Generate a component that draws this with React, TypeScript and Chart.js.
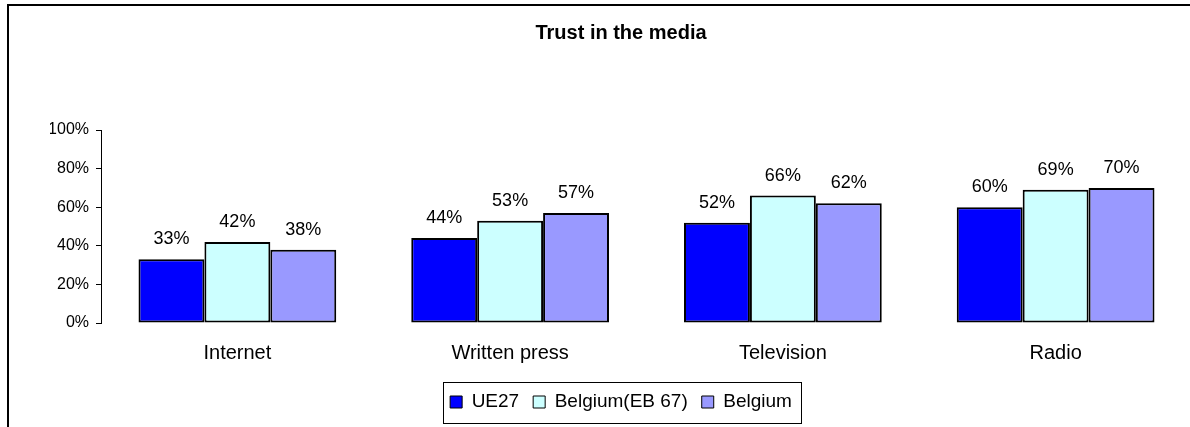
import React, { useEffect, useRef } from "react";
import { Chart, registerables } from "chart.js";

Chart.register(...registerables);

const categories = ["Internet", "Written press", "Television", "Radio"];
const seriesNames = ["UE27", "Belgium(EB 67)", "Belgium"];
const ue27 = [33, 44, 52, 60];
const belgiumEB67 = [42, 53, 66, 69];
const belgium = [38, 57, 62, 70];
const yTicks = [0, 20, 40, 60, 80, 100];
const titleText = "Trust in the media";

const FONT = "'Liberation Sans', Arial, sans-serif";

const valueLabels = {
  id: "valueLabels",
  afterDatasetsDraw(chart: any) {
    const ctx = chart.ctx;
    ctx.save();
    ctx.font = `18px ${FONT}`;
    ctx.fillStyle = "#000";
    ctx.textAlign = "center";
    ctx.textBaseline = "middle";
    chart.data.datasets.forEach((ds: any, i: number) => {
      const meta = chart.getDatasetMeta(i);
      meta.data.forEach((el: any, j: number) => {
        ctx.fillText(ds.data[j] + "%", el.x, el.y - 20);
      });
    });
    ctx.restore();
  },
};

const legendFrame = {
  id: "legendFrame",
  afterDraw(chart: any) {
    const lg = chart.legend;
    if (!lg || !lg.legendHitBoxes || !lg.legendHitBoxes.length) return;
    const boxes = lg.legendHitBoxes;
    let l = Infinity, r = -Infinity, cy = 0;
    boxes.forEach((b: any) => {
      l = Math.min(l, b.left);
      r = Math.max(r, b.left + b.width);
      cy = b.top + b.height / 2;
    });
    const ctx = chart.ctx;
    ctx.save();
    ctx.strokeStyle = "#000";
    ctx.lineWidth = 1;
    ctx.strokeRect(Math.round(l - 7) + 0.5, Math.round(cy - 20) + 0.5, Math.round(r - l + 16), 41);
    ctx.restore();
  },
};

export default function App() {
  const ref = useRef<HTMLCanvasElement>(null);
  useEffect(() => {
    if (!ref.current) return;
    const chart = new Chart(ref.current, {
      type: "bar",
      data: {
        labels: categories,
        datasets: [
          { label: seriesNames[0], data: ue27, backgroundColor: "#0000FF" },
          { label: seriesNames[1], data: belgiumEB67, backgroundColor: "#CCFFFF" },
          { label: seriesNames[2], data: belgium, backgroundColor: "#9999FF" },
        ].map((d) => ({
          ...d,
          borderColor: "#000",
          borderWidth: 2,
          borderSkipped: false,
          categoryPercentage: 0.725,
          barPercentage: 1,
        })),
      },
      options: {
        responsive: false,
        animation: false,
        layout: { padding: { left: 41, right: 39, top: 0, bottom: 24.5 } },
        plugins: {
          tooltip: { enabled: false },
          title: {
            display: true,
            text: titleText,
            color: "#000",
            font: { family: FONT, size: 20, weight: "bold" },
            padding: { top: 15, bottom: 85 },
          },
          legend: {
            display: true,
            position: "bottom",
            labels: {
              color: "#000",
              font: { family: FONT, size: 19 },
              boxWidth: 12,
              boxHeight: 12,
              padding: 14,
              generateLabels(chart: any) {
                const items = Chart.defaults.plugins.legend.labels.generateLabels(chart);
                return items.map((it: any) => ({ ...it, lineWidth: 1, strokeStyle: "#000" }));
              },
            },
          },
        },
        scales: {
          x: {
            grid: { display: false, drawTicks: false },
            border: { display: false },
            ticks: { color: "#000", font: { family: FONT, size: 20 }, padding: 18, maxRotation: 0 },
            afterFit(scale: any) {
              scale.height = 55.5;
            },
          },
          y: {
            min: 0,
            max: 100,
            afterBuildTicks(scale: any) {
              scale.ticks = yTicks.map((v) => ({ value: v }));
            },
            grid: { drawOnChartArea: false, drawTicks: true, tickLength: 5, color: "#000" },
            border: { display: true, color: "#000", width: 1 },
            ticks: {
              color: "#000",
              font: { family: FONT, size: 16 },
              padding: 7,
              callback: (v: any) => v + "%",
            },
            afterFit(scale: any) {
              scale.width = 51;
            },
          },
        },
      },
      plugins: [valueLabels, legendFrame],
    });
    return () => chart.destroy();
  }, []);

  return (
    <div style={{ position: "fixed", left: 0, top: 0, width: 1190, height: 427, overflow: "hidden", background: "#fff" }}>
      <div
        style={{
          position: "absolute",
          left: 7,
          top: 4,
          width: 1300,
          height: 500,
          borderLeft: "2px solid #000",
          borderTop: "2px solid #000",
        }}
      >
        <canvas ref={ref} width={1222} height={440} style={{ display: "block", width: 1222, height: 440 }} />
      </div>
    </div>
  );
}
